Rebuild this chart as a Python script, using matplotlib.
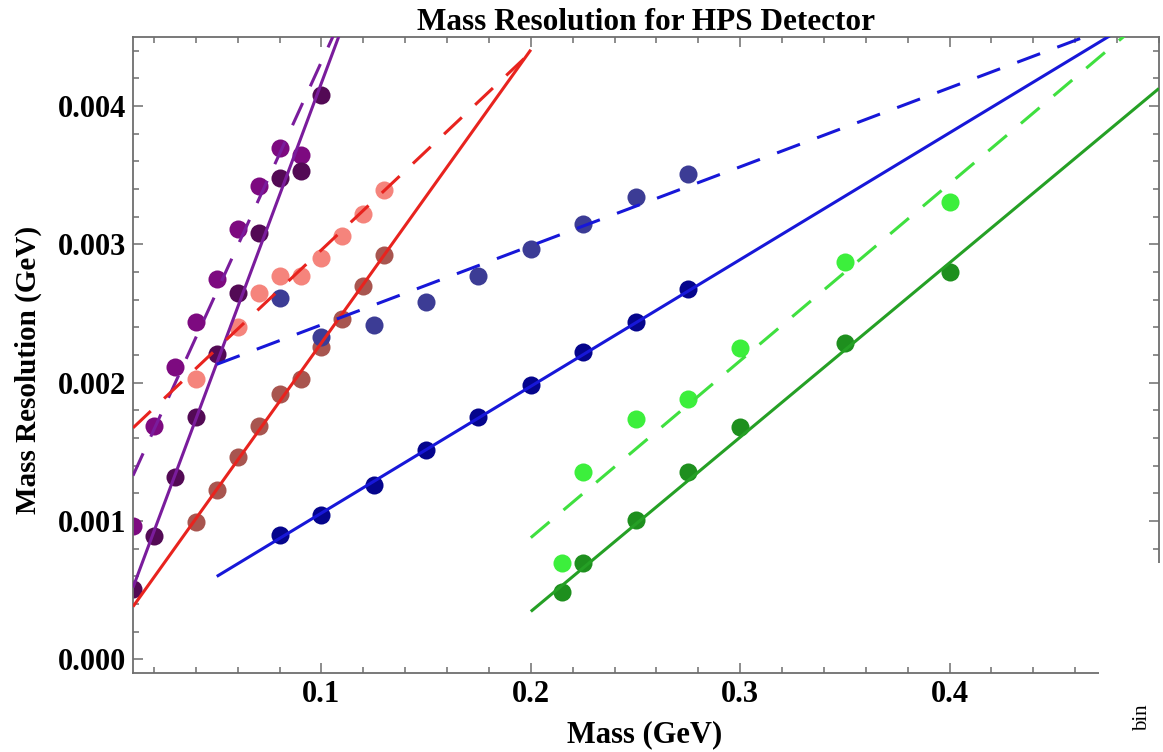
import matplotlib
matplotlib.use("Agg")
import matplotlib.pyplot as plt
from matplotlib.patches import Rectangle
from matplotlib.ticker import MultipleLocator, FixedLocator
import numpy as np

# ---------------- data ----------------
# purple family
mass_purple = [0.01, 0.02, 0.03, 0.04, 0.05, 0.06, 0.07, 0.08, 0.09, 0.10]
res_purple_solid = [0.000505, 0.000888, 0.00132, 0.00175, 0.00221, 0.00265, 0.00308, 0.00348, 0.00353, 0.00408]
mass_purple_d = [0.01, 0.02, 0.03, 0.04, 0.05, 0.06, 0.07, 0.08, 0.09]
res_purple_dashed = [0.00096, 0.00169, 0.00211, 0.00244, 0.00275, 0.00311, 0.00342, 0.00370, 0.00365]

# red family
mass_red = [0.04, 0.05, 0.06, 0.07, 0.08, 0.09, 0.10, 0.11, 0.12, 0.13]
res_red_solid = [0.000995, 0.001225, 0.00146, 0.00169, 0.00192, 0.00203, 0.00226, 0.00246, 0.00270, 0.00292]
mass_red_d = [0.04, 0.06, 0.07, 0.08, 0.09, 0.10, 0.11, 0.12, 0.13]
res_red_dashed = [0.00203, 0.00240, 0.00265, 0.00277, 0.00277, 0.00290, 0.00306, 0.00322, 0.00339]

# blue family
mass_blue = [0.08, 0.10, 0.125, 0.15, 0.175, 0.20, 0.225, 0.25, 0.275]
res_blue_solid = [0.00090, 0.00104, 0.00126, 0.00151, 0.00175, 0.00198, 0.00222, 0.00244, 0.00268]
res_blue_dashed = [0.00261, 0.00233, 0.00242, 0.00258, 0.00277, 0.00297, 0.00315, 0.00334, 0.00351]

# green family
mass_green = [0.215, 0.225, 0.25, 0.275, 0.30, 0.35, 0.40]
res_green_solid = [0.000483, 0.000692, 0.00101, 0.001355, 0.00168, 0.002285, 0.00280]
res_green_dashed = [0.000692, 0.001355, 0.001737, 0.00188, 0.00225, 0.00287, 0.00331]

# linear fits: (intercept, slope, x_start, x_end)
fit_purple_solid = (0.000113, 0.04055, 0.01, 0.12)
fit_purple_dashed = (0.000995, 0.03326, 0.01, 0.12)
fit_red_solid = (0.000168, 0.0212, 0.01, 0.20)
fit_red_dashed = (0.00153, 0.0143, 0.01, 0.20)
fit_blue_solid = (0.00014, 0.009168, 0.05, 0.50)
fit_blue_dashed = (0.001847, 0.005714, 0.05, 0.50)
fit_green_solid = (-0.002177, 0.01261, 0.20, 0.50)
fit_green_dashed = (-0.001681, 0.0128, 0.20, 0.50)

x_ticks = [0.1, 0.2, 0.3, 0.4]
x_tick_labels = ["0.1", "0.2", "0.3", "0.4"]
y_ticks = [0.0, 0.001, 0.002, 0.003, 0.004]
y_tick_labels = ["0.000", "0.001", "0.002", "0.003", "0.004"]

title = "Mass Resolution for HPS Detector"
xlabel = "Mass (GeV)"
ylabel = "Mass Resolution (GeV)"

# ---------------- figure ----------------
plt.rcParams['font.family'] = ['Liberation Serif', 'DejaVu Serif']
W, H = 1163, 752
fig = plt.figure(figsize=(W / 100, H / 100), dpi=100)
L, R, T, B = 133, 1159, 37, 673
ax = fig.add_axes([L / W, 1 - B / H, (R - L) / W, (B - T) / H])

ms = 13
lw = 2.2
dash = (8, 6)

def fit_line(ax, fit, color, dashed):
    a, b, x0, x1 = fit
    xs = np.array([x0, x1])
    ln, = ax.plot(xs, a + b * xs, color=color, lw=lw, zorder=3,
                  solid_capstyle='butt')
    if dashed:
        ln.set_dashes(dash)
        ln.set_dash_capstyle('butt')

# points
ax.plot(mass_purple_d, res_purple_dashed, 'o', color='#7d0a80', ms=ms, mew=0, zorder=2)
ax.plot(mass_purple, res_purple_solid, 'o', color='#530a55', ms=ms, mew=0, zorder=2)
ax.plot(mass_red_d, res_red_dashed, 'o', color='#f5847c', ms=ms, mew=0, zorder=2)
ax.plot(mass_red, res_red_solid, 'o', color='#a8554f', ms=ms, mew=0, zorder=2)
ax.plot(mass_blue, res_blue_dashed, 'o', color='#3c3c95', ms=ms, mew=0, zorder=2)
ax.plot(mass_blue, res_blue_solid, 'o', color='#05058c', ms=ms, mew=0, zorder=2)
ax.plot(mass_green, res_green_dashed, 'o', color='#3cef3c', ms=ms, mew=0, zorder=2)
ax.plot(mass_green, res_green_solid, 'o', color='#1e8f1e', ms=ms, mew=0, zorder=2)

# fit lines
fit_line(ax, fit_purple_solid, '#7a1c9c', False)
fit_line(ax, fit_purple_dashed, '#7a1c9c', True)
fit_line(ax, fit_red_solid, '#e8231e', False)
fit_line(ax, fit_red_dashed, '#e8231e', True)
fit_line(ax, fit_blue_solid, '#1717d8', False)
fit_line(ax, fit_blue_dashed, '#1717d8', True)
fit_line(ax, fit_green_solid, '#25a025', False)
fit_line(ax, fit_green_dashed, '#3fe03f', True)

ax.set_xlim(0.01, 0.50)
ax.set_ylim(-0.0001, 0.0045)

ax.xaxis.set_major_locator(FixedLocator(x_ticks))
ax.set_xticklabels(x_tick_labels)
ax.yaxis.set_major_locator(FixedLocator(y_ticks))
ax.set_yticklabels(y_tick_labels)
ax.xaxis.set_minor_locator(MultipleLocator(0.02))
ax.yaxis.set_minor_locator(MultipleLocator(0.0002))

spine_col = '#6e6e6e'
for s in ax.spines.values():
    s.set_color(spine_col)
    s.set_linewidth(1.3)
ax.tick_params(which='both', direction='in', top=True, right=True, colors=spine_col,
               labelcolor='black', width=1.1)
ax.tick_params(which='major', length=7, pad=5)
ax.tick_params(which='minor', length=4)
for lab in ax.get_xticklabels() + ax.get_yticklabels():
    lab.set_fontsize(22)
    lab.set_fontweight('bold')

ax.set_title(title, fontsize=22.5, fontweight='bold', pad=4)
ax.set_xlabel(xlabel, fontsize=22, fontweight='bold')
ax.set_ylabel(ylabel, fontsize=21, fontweight='bold')
ax.xaxis.set_label_coords((645 - L) / (R - L), (B - 735) / (B - T))
ax.xaxis.label.set_va('center')
ax.yaxis.set_label_coords((28 - L) / (R - L), (B - 370) / (B - T))
ax.yaxis.label.set_va('center')

# white cover over the lower-right corner (as in the reference screenshot)
fig.patches.append(Rectangle((1099 / W, 0), (W - 1099) / W, (H - 563) / H,
                             transform=fig.transFigure, facecolor='white',
                             edgecolor='none', zorder=5))
fig.text(1143 / W, 1 - 718 / H, "bin", rotation=90, fontsize=15,
         ha='center', va='center', zorder=6)

fig.savefig("out.png", dpi=100)
